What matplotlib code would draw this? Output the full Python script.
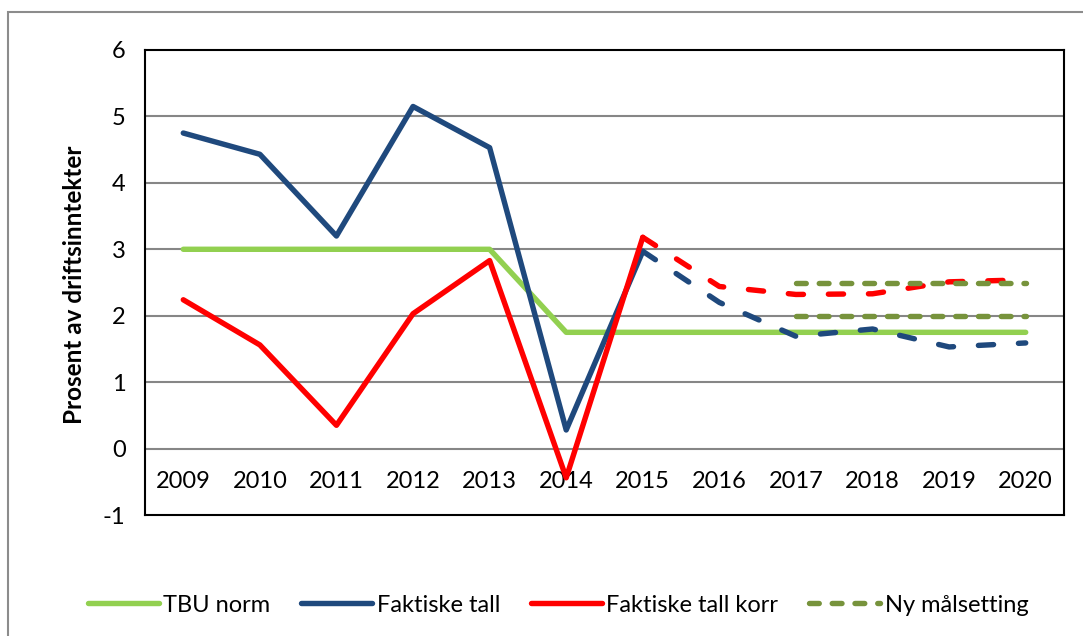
import numpy as np
import matplotlib
matplotlib.use('Agg')
import matplotlib.pyplot as plt
from matplotlib.patches import Rectangle

plt.rcParams['font.family'] = ['Lato', 'DejaVu Sans']
plt.rcParams['axes.unicode_minus'] = False

# DATA
years = [2009, 2010, 2011, 2012, 2013, 2014, 2015, 2016, 2017, 2018, 2019, 2020]
tbu_norm = [3, 3, 3, 3, 3, 1.75, 1.75, 1.75, 1.75, 1.75, 1.75, 1.75]
faktiske = [4.75, 4.43, 3.2, 5.15, 4.53, 0.28, 2.97]           # 2009-2015
faktiske_prognose = [2.97, 2.2, 1.69, 1.8, 1.53, 1.59]         # 2015-2020
korr = [2.24, 1.56, 0.35, 2.03, 2.83, -0.44, 3.18]             # 2009-2015
korr_prognose = [3.18, 2.44, 2.32, 2.33, 2.51, 2.54]           # 2015-2020
ny_maal_hoy = [2.5, 2.5, 2.5, 2.5]                             # 2017-2020
ny_maal_lav = [2.0, 2.0, 2.0, 2.0]                             # 2017-2020

green = '#92D050'
blue = '#1F497D'
red = '#FF0000'
olive = '#77933C'

fig = plt.figure(figsize=(10.83, 6.36), dpi=100)
ax = fig.add_axes([145/1083, 1-515/636, (1064-145)/1083, (515-50)/636])

x = np.arange(len(years))
lw = 3.9
solid = dict(solid_capstyle='round', solid_joinstyle='round')
dashed = dict(dash_capstyle='round', dash_joinstyle='round')

ax.plot(x, tbu_norm, color=green, lw=lw, label='TBU norm', zorder=3, **solid)
ax.plot(x[:7], faktiske, color=blue, lw=lw, label='Faktiske tall', zorder=4, **solid)
ax.plot(x[6:], faktiske_prognose, color=blue, lw=lw, dashes=(2.8, 4.6), zorder=4, **dashed)
ax.plot(x[:7], korr, color=red, lw=lw, label='Faktiske tall korr', zorder=5, **solid)
ax.plot(x[6:], korr_prognose, color=red, lw=lw, dashes=(2.8, 4.6), zorder=5, **dashed)
ax.plot(x[8:], ny_maal_hoy, color=olive, lw=lw, dashes=(1.8, 2.4), label='Ny målsetting', zorder=6, **dashed)
ax.plot(x[8:], ny_maal_lav, color=olive, lw=lw, dashes=(1.8, 2.4), zorder=6, **dashed)

ax.set_xlim(-0.5, len(years) - 0.5)
ax.set_ylim(-1, 6)
ax.set_yticks(range(-1, 7))
ax.tick_params(axis='y', length=0, pad=14, labelsize=17)
ax.set_xticks([])
for sp in ax.spines.values():
    sp.set_linewidth(1.5)
    sp.set_color('black')

# gridlines
for v in range(0, 6):
    ax.axhline(v, color='#868686', lw=1.5, zorder=1)

# year labels sit just under the 0 line
for i, yr in enumerate(years):
    ax.text(i, -0.5, str(yr), ha='center', va='center', fontsize=17)

fig.text(75/1083, 1-285/636, 'Prosent av driftsinntekter', rotation=90,
         ha='center', va='center', fontsize=17.5, fontweight='bold')

# outer chart frame
fig.add_artist(Rectangle((8/1083, -0.1), 2, 1.1 - 12/636, transform=fig.transFigure,
                         fill=False, edgecolor='#8c8c8c', lw=1.5))

fig.legend(loc='center', bbox_to_anchor=(558/1083, 1-605/636), ncol=4, frameon=False,
           fontsize=17, handlelength=3.0, handletextpad=0.2, columnspacing=1.3)

fig.savefig('out.png', dpi=100)
